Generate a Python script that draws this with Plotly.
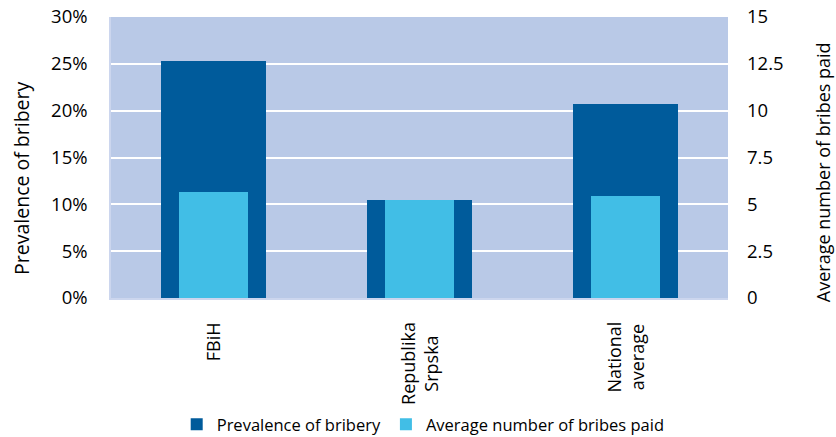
import plotly.graph_objects as go

categories = ["FBiH", "Republika<br>Srpska", "National<br>average"]
prevalence = [0.253, 0.105, 0.207]
avg_bribes = [5.66, 5.23, 5.45]

left_ticks = [0, 0.05, 0.10, 0.15, 0.20, 0.25, 0.30]
left_ticktext = ["0%", "5%", "10%", "15%", "20%", "25%", "30%"]
right_ticks = [0, 2.5, 5, 7.5, 10, 12.5, 15]
right_ticktext = ["0", "2.5", "5", "7.5", "10", "12.5", "15"]

left_title = "Prevalence of bribery"
right_title = "Average number of bribes paid"

DARK = "#005B9B"
LIGHT = "#41BEE6"
BG = "#B9C9E7"
EDGE = "#CCD6EE"
FONT = "Open Sans"

fig = go.Figure()
fig.add_trace(go.Bar(
    x=categories, y=prevalence, name="Prevalence of bribery",
    marker=dict(color=DARK, line=dict(width=0)), width=0.51, yaxis="y",
))
fig.add_trace(go.Bar(
    x=categories, y=avg_bribes, name="Average number of bribes paid",
    marker=dict(color=LIGHT, line=dict(width=0)), width=0.335, yaxis="y2",
))

annotations = []
for c in categories:
    annotations.append(dict(
        x=c, xref="x", y=-0.078, yref="paper", text=c, showarrow=False,
        textangle=-90, xanchor="center", yanchor="top", align="center",
        font=dict(family=FONT, size=18, color="#000"),
    ))
annotations.append(dict(
    x=-0.146, xref="paper", y=0.427, yref="paper", text=left_title,
    showarrow=False, textangle=-90, xanchor="center", yanchor="middle",
    font=dict(family=FONT, size=19.5, color="#000"),
))
annotations.append(dict(
    x=1.154, xref="paper", y=0.448, yref="paper", text=right_title,
    showarrow=False, textangle=-90, xanchor="center", yanchor="middle",
    font=dict(family=FONT, size=18, color="#000"),
))

fig.update_layout(
    width=836, height=437,
    margin=dict(l=111, r=108, t=17, b=139, autoexpand=False),
    paper_bgcolor="white", plot_bgcolor=BG,
    barmode="overlay", bargap=0,
    font=dict(family=FONT, size=17, color="#000"),
    xaxis=dict(showticklabels=False, showgrid=False, zeroline=False,
               showline=True, linecolor=EDGE, linewidth=2, ticks=""),
    yaxis=dict(range=[0, 0.30], tickvals=left_ticks, ticktext=left_ticktext,
               showgrid=True, gridcolor="white", gridwidth=2, zeroline=False,
               showline=True, linecolor=EDGE, linewidth=1.5, ticks="",
               ticklabelstandoff=18, tickfont=dict(size=18.5)),
    yaxis2=dict(range=[0, 15], tickvals=right_ticks, ticktext=right_ticktext,
                overlaying="y", side="right", showgrid=False, zeroline=False,
                showline=False, ticks="", ticklabelstandoff=18,
                tickfont=dict(size=18.5)),
    legend=dict(orientation="h", x=0.506, xanchor="center", y=-0.45,
                yanchor="middle", font=dict(size=16.5), traceorder="normal"),
    annotations=annotations,
)

fig.write_html("out.html", config={"displayModeBar": False},
               post_script="document.body.style.margin='0';document.body.style.overflow='hidden';")
